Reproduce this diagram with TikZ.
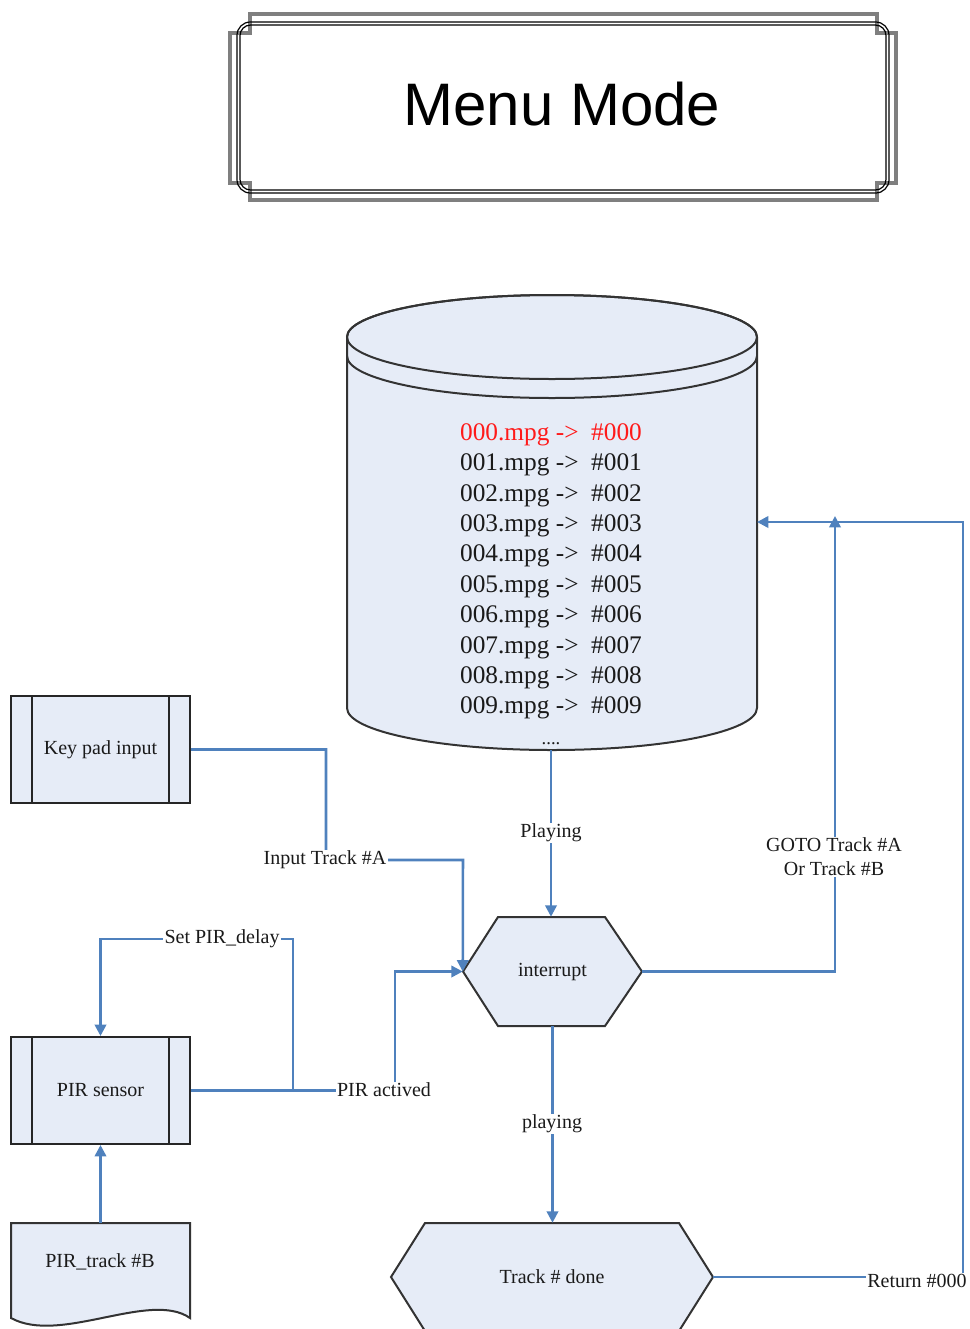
\documentclass[tikz,border=0pt]{standalone}
\usepackage{fontspec}
\setmainfont{Liberation Serif}
\newfontfamily\titlefont{Liberation Sans}
\usetikzlibrary{arrows.meta}
\definecolor{fillb}{HTML}{E6ECF7}
\definecolor{lineb}{HTML}{4F81BD}
\definecolor{txt}{HTML}{1A1A1A}
\definecolor{framegray}{HTML}{7F7F7F}
\definecolor{redtxt}{HTML}{FF1A1A}
\begin{document}
\begin{tikzpicture}[x=0.75pt,y=-0.75pt,
  conn/.style={draw=lineb, line width=1.9pt},
  arr/.style={conn, -{Triangle[width=8.5pt,length=8.5pt]}},
  lbl/.style={fill=white, inner sep=1pt, font=\fontsize{15}{18}\selectfont, text=txt},
  box/.style={draw=black!85, line width=1.5pt, fill=fillb, minimum width=134.25pt, minimum height=80.25pt, font=\fontsize{15}{18}\selectfont, text=txt},
  shapeline/.style={draw=black!80, line width=1.5pt, fill=fillb},
  inner/.style={draw=black!85, line width=1.5pt},
  plain/.style={font=\fontsize{15}{18}\selectfont, text=txt}]
\useasboundingbox (0,0) rectangle (970,1329);

% title frame
\draw[framegray, line width=3.5pt] (250,14) -- (877,14) -- (877,33) -- (896,33) -- (896,183) -- (877,183) -- (877,200) -- (250,200) -- (250,183) -- (230,183) -- (230,33) -- (250,33) -- cycle;
\draw[black, line width=0.9pt, rounded corners=10pt] (237,22) rectangle (889,193);
\draw[black, line width=0.9pt, rounded corners=8pt] (240,25) rectangle (886,190);
\node[font=\titlefont\fontsize{45}{54}\selectfont, text=black] (title) at (562,104) {Menu Mode};

% cylinder
\filldraw[shapeline] (347,337) -- (347,708) arc[start angle=180, end angle=360, x radius=153.75pt, y radius=31.5pt] -- (757,337) arc[start angle=0, end angle=180, x radius=153.75pt, y radius=31.5pt] -- cycle;
\draw[black!80, line width=1.5pt] (552,337) ellipse [x radius=153.75pt, y radius=31.5pt];
\draw[black!80, line width=1.5pt] (347,356) arc[start angle=180, end angle=360, x radius=153.75pt, y radius=31.5pt];
\node[align=center, font=\fontsize{19}{22.8}\selectfont, text=txt] (cyltext) at (551,584)
 {\textcolor{redtxt}{000.mpg ->\ \ \#000}\\
  001.mpg ->\ \ \#001\\
  002.mpg ->\ \ \#002\\
  003.mpg ->\ \ \#003\\
  004.mpg ->\ \ \#004\\
  005.mpg ->\ \ \#005\\
  006.mpg ->\ \ \#006\\
  007.mpg ->\ \ \#007\\
  008.mpg ->\ \ \#008\\
  009.mpg ->\ \ \#009\\
  {\fontsize{14}{16}\selectfont ....}};
\coordinate (cylb) at (551,750);
\coordinate (cyle) at (757,522);

% boxes
\node[box] (key) at (100.5,749.5) {Key pad input};
\draw[inner] ([xshift=16.5pt]key.north west) -- ([xshift=16.5pt]key.south west);
\draw[inner] ([xshift=-16.5pt]key.north east) -- ([xshift=-16.5pt]key.south east);

\node[box] (pir) at (100.5,1090.5) {PIR sensor};
\draw[inner] ([xshift=16.5pt]pir.north west) -- ([xshift=16.5pt]pir.south west);
\draw[inner] ([xshift=-16.5pt]pir.north east) -- ([xshift=-16.5pt]pir.south east);

% document shape
\filldraw[shapeline] (11,1223) -- (190,1223) -- (190,1318) .. controls (150,1290) and (60,1345) .. (11,1318) -- cycle;
\node[plain] (pirb) at (100,1262) {PIR\_track \#B};
\coordinate (pirbtop) at (100.5,1223);

% hexagons
\filldraw[shapeline] (463,971.5) -- (498,917) -- (605,917) -- (642,971.5) -- (605,1026) -- (498,1026) -- cycle;
\node[plain, minimum width=134.25pt, minimum height=81.75pt] (int) at (552.5,971.5) {interrupt};

\filldraw[shapeline] (391,1277) -- (425,1223) -- (679,1223) -- (713,1277) -- (679,1331) -- (425,1331) -- cycle;
\node[plain, minimum width=241.5pt, minimum height=81pt] (td) at (552,1277) {Track \# done};

% connectors
\draw[arr] (cylb) -- (cylb |- int.north);
\node[lbl] (lplay) at (551,833) {Playing};

\draw[arr] (int.south) -- (int.south |- td.north);
\node[lbl] (lplay2) at (552,1124) {playing};

\draw[arr] (key.east) -- (326,749.5) -- (326,860) -- (463,860) -- (int.west);
\node[lbl] (linA) at (325,860) {Input Track \#A};

\draw[arr] (pir.east) -- (395,1090.5) -- (395,971.5) -- (int.west);
\node[lbl] (lpira) at (384,1090) {PIR actived};

\coordinate (branch) at (293,1090.5);
\draw[arr] (branch) -- (293,939) -- (100.5,939) -- (pir.north);
\node[lbl] (lset) at (222,939) {Set PIR\_delay};

\draw[arr] (pirbtop) -- (pir.south);

\draw[arr] (int.east) -- (835,971.5) -- (835,516);
\node[lbl, align=center, font=\fontsize{15}{18}\selectfont] (lgoto) at (834,857) {GOTO Track \#A\\Or Track \#B};

\draw[arr] (td.east) -- (963,1277) -- (963,522) -- (cyle);
\node[lbl] (lret) at (917,1281) {Return \#000};
\end{tikzpicture}
\end{document}
